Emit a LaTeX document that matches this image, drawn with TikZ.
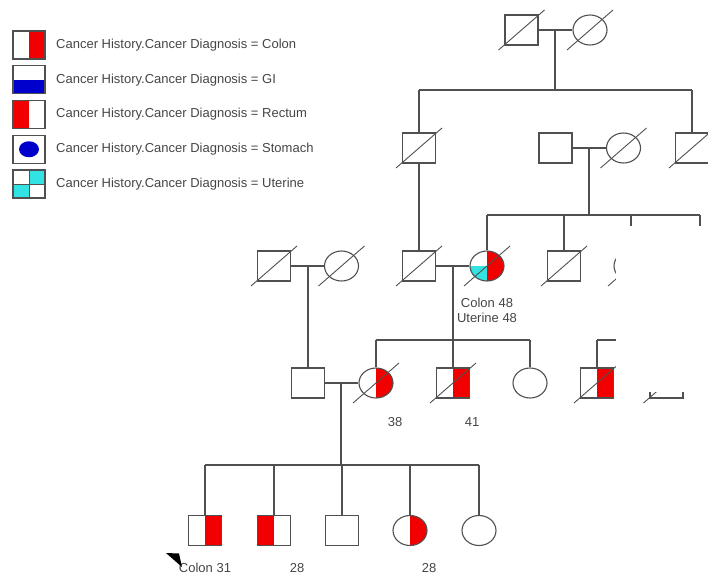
\documentclass[tikz,border=0pt]{standalone}
\usepackage{fontspec}
\setmainfont{Liberation Sans}
\usetikzlibrary{positioning,calc,shapes.geometric}
\definecolor{lineC}{HTML}{505050}
\definecolor{txtC}{HTML}{454545}
\definecolor{cRed}{HTML}{F20000}
\definecolor{cBlue}{HTML}{0000CC}
\definecolor{cCyan}{HTML}{33E3E3}

\begin{document}
\begin{tikzpicture}[
					x=1pt,y=-1pt,
					line join=miter,
					font=\fontsize{13}{15}\selectfont,
					indiv/.style={draw=lineC, line width=1.1pt, fill=white, inner sep=0pt, minimum height=30pt},
					male/.style={indiv, rectangle, minimum width=33pt},
					female/.style={indiv, ellipse, minimum width=34pt},
					colon/.style={path picture={\fill[cRed] (path picture bounding box.north) rectangle (path picture bounding box.south east);}},
					rectum/.style={path picture={\fill[cRed] (path picture bounding box.south west) rectangle (path picture bounding box.north);}},
					colonuter/.style={path picture={
							\fill[cRed] (path picture bounding box.north) rectangle (path picture bounding box.south east);
							\fill[cCyan] (path picture bounding box.west) rectangle (path picture bounding box.south);}},
					link/.style={draw=lineC, line width=1.1pt},
					slash/.style={draw=lineC, line width=0.9pt},
					lbl/.style={text=txtC, inner sep=1pt}
					]
					\useasboundingbox (0,0) rectangle (708,575);
					
					%----- legend
					\def\lgX{13}
					\def\lgW{32}
					\def\lgH{28}
					\def\lgY{31}
					\def\lgStep{34.75}
					
					% colon: right half
					\fill[cRed] (\lgX+\lgW/2,\lgY) rectangle ++(\lgW/2,\lgH);
					% GI: bottom half
					\fill[cBlue] (\lgX,\lgY+\lgStep+\lgH/2) rectangle ++(\lgW,\lgH/2);
					% rectum: left half
					\fill[cRed] (\lgX,\lgY+2*\lgStep) rectangle ++(\lgW/2,\lgH);
					% stomach: dot
					\fill[cBlue] (\lgX+\lgW/2,\lgY+3*\lgStep+\lgH/2) ellipse [x radius=10pt, y radius=8pt];
					% uterine: two quarters
					\fill[cCyan] (\lgX+\lgW/2,\lgY+4*\lgStep) rectangle ++(\lgW/2,\lgH/2);
					\fill[cCyan] (\lgX,\lgY+4*\lgStep+\lgH/2) rectangle ++(\lgW/2,\lgH/2);
					\draw[link, line width=0.9pt] (\lgX+\lgW/2,\lgY+4*\lgStep) -- ++(0,\lgH);
					\draw[link, line width=0.9pt] (\lgX,\lgY+4*\lgStep+\lgH/2) -- ++(\lgW,0);
					\foreach \i in {0,...,4}{
						\draw[link] (\lgX,\lgY+\i*\lgStep) rectangle ++(\lgW,\lgH);
					}
					\node[lbl, anchor=west] (lgColon)   at (55,\lgY+\lgH/2) {Cancer History.Cancer Diagnosis = Colon};
					\node[lbl, anchor=west] (lgGI)      at (55,\lgY+\lgStep+\lgH/2) {Cancer History.Cancer Diagnosis = GI};
					\node[lbl, anchor=west] (lgRectum)  at (55,\lgY+2*\lgStep+\lgH/2) {Cancer History.Cancer Diagnosis = Rectum};
					\node[lbl, anchor=west] (lgStomach) at (55,\lgY+3*\lgStep+\lgH/2) {Cancer History.Cancer Diagnosis = Stomach};
					\node[lbl, anchor=west] (lgUterine) at (55,\lgY+4*\lgStep+\lgH/2) {Cancer History.Cancer Diagnosis = Uterine};
					
					%----- generation I
					\node[male]   (ggf) at (521.5,30) {};
					\node[female] (ggm) at (590,30) {};
					\coordinate (mI) at (555,30);
					
					%----- generation II
					\node[male]   (gu1) at (419,148) {};
					\node[male]   (gu2) at (555.5,148) {};
					\node[female] (gu2w) at (623.5,148) {};
					\node[male]   (gu3) at (692,148) {};
					\coordinate (mII) at (589,148);
					
					%----- generation III
					\node[male]   (pgf) at (274,266) {};
					\node[female] (pgm) at (341.5,266) {};
					\node[male]   (gf)  at (419,266) {};
					\node[female, colonuter] (gm) at (487,266) {};
					\node[male]   (ga1) at (564,266) {};
					\node[female] (ga2) at (631,266) {};
					\coordinate (mIIIa) at (308,266);
					\coordinate (mIIIb) at (453,266);
					
					%----- generation IV
					\node[male]   (fa)  at (308,383) {};
					\node[female, colon] (mo) at (376,383) {};
					\node[male, colon]   (un1) at (453,383) {};
					\node[female] (au1) at (530,383) {};
					\node[male, colon]   (co1) at (597,383) {};
					\node[male]   (co2) at (666.5,383) {};
					\coordinate (mIV) at (341,383);
					
					%----- generation V
					\node[male, colon]    (p1) at (205,530.5) {};
					\node[male, rectum]   (p2) at (274,530.5) {};
					\node[male]           (p3) at (342,530.5) {};
					\node[female, colon]  (p4) at (410,530.5) {};
					\node[female]         (p5) at (479,530.5) {};
					
					%----- couples and sibships
					\draw[link] (ggf.east) -- (ggm.west);
					\draw[link] (mI) -- (555,90);
					\draw[link] (gu1.north |- 0,90) -- (gu3.north |- 0,90);
					\draw[link] (gu1.north |- 0,90) -- (gu1.north);
					\draw[link] (gu3.north |- 0,90) -- (gu3.north);
					\draw[link] (gu1.south) -- (gf.north);
					
					\draw[link] (gu2.east) -- (gu2w.west);
					\draw[link] (mII) -- (589,215);
					\coordinate (sibIIe) at (700,215);
					\draw[link] (gm.north |- 0,215) -- (sibIIe);
					\draw[link] (gm.north |- 0,215) -- (gm.north);
					\draw[link] (ga1.north |- 0,215) -- (ga1.north);
					\draw[link] (ga2.north |- 0,215) -- (ga2.north);
					\draw[link] (sibIIe) -- ++(0,20);
					
					\draw[link] (pgf.east) -- (pgm.west);
					\draw[link] (mIIIa) -- (fa.north);
					\draw[link] (gf.east) -- (gm.west);
					\draw[link] (mIIIb) -- (453,340);
					\draw[link] (mo.north |- 0,340) -- (au1.north |- 0,340);
					\draw[link] (mo.north |- 0,340) -- (mo.north);
					\draw[link] (453,340) -- (un1.north);
					\draw[link] (au1.north |- 0,340) -- (au1.north);
					\draw[link] (co1.north |- 0,340) -- (co2.north |- 0,340);
					\draw[link] (co1.north |- 0,340) -- (co1.north);
					\draw[link] (co2.north |- 0,340) -- (co2.north);
					
					\draw[link] (fa.east) -- (mo.west);
					\draw[link] (mIV) -- (341,465);
					\draw[link] (p1.north |- 0,465) -- (p5.north |- 0,465);
					\foreach \n in {p1,p2,p3,p4,p5}{
						\draw[link] (\n.north |- 0,465) -- (\n.north);
					}
					
					%----- deceased marks
					\foreach \n in {ggf,ggm,gu1,gu2w,gu3,pgf,pgm,gf,gm,ga1,ga2,mo,un1,co1,co2}{
						\draw[slash] ($(\n.center)+(-23,20)$) -- ($(\n.center)+(23,-20)$);
					}
					
					%----- masked part on the right
					\fill[white] (615.6,225.5) rectangle (709,392);
					
					%----- ages and diagnoses
					\node[lbl, align=center] (gmTxt) at (487,310.5) {Colon 48\\Uterine 48};
					\node[lbl] (moTxt)  at (395,422) {38};
					\node[lbl] (un1Txt) at (472,422) {41};
					\node[lbl] (p1Txt)  at (205,568) {Colon 31};
					\node[lbl] (p2Txt)  at (297,568) {28};
					\node[lbl] (p4Txt)  at (429,568) {28};
					
					% proband marker
					\fill[black] (166,553) -- (179,553.5) -- (182,567) -- cycle;
					
				\end{tikzpicture}
\end{document}
